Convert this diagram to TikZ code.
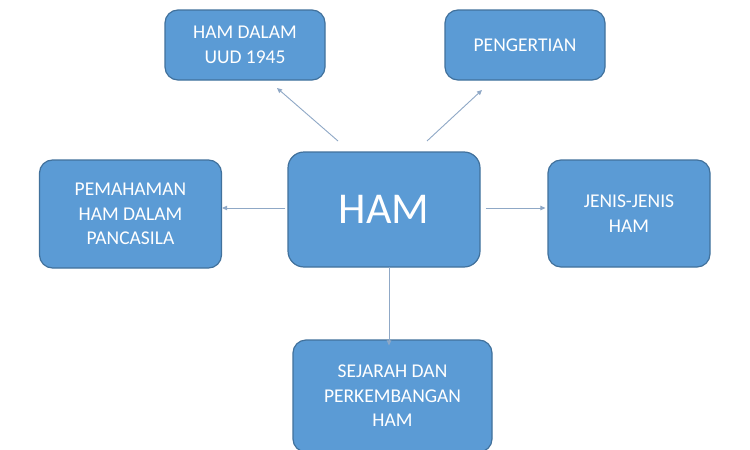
\documentclass[tikz,border=0pt]{standalone}
\usepackage{fontspec}
\setmainfont{Carlito}
\usetikzlibrary{arrows.meta}
\definecolor{boxfill}{HTML}{5B9BD5}
\definecolor{boxline}{HTML}{41719C}
\definecolor{arrowcol}{HTML}{8FA8C6}
\begin{document}
\begin{tikzpicture}[x=1pt,y=-1pt,
  topic/.style={draw=boxline,line width=1.2pt,fill=boxfill,rounded corners=13pt,
    text=white,align=center,font=\fontsize{19.5}{24.5}\selectfont,inner sep=0pt},
  link/.style={draw=arrowcol,line width=0.9pt,-{Triangle[length=5pt,width=4.5pt]}}]
\useasboundingbox[fill=white] (0,0) rectangle (750,450);
\node[topic,minimum width=192pt,minimum height=115pt,rounded corners=16pt,
  font=\fontsize{44}{50}\selectfont] (ham) at (384,209.5) {HAM};
\node[topic,minimum width=160pt,minimum height=70pt] (uud) at (245,45) {HAM DALAM\\UUD 1945};
\node[topic,minimum width=160pt,minimum height=70pt] (peng) at (525,45) {PENGERTIAN};
\node[topic,minimum width=182pt,minimum height=108pt] (pema) at (130.5,214) {PEMAHAMAN\\HAM DALAM\\PANCASILA};
\node[topic,minimum width=162pt,minimum height=107pt] (jenis) at (629,213.5) {JENIS-JENIS\\HAM};
\node[topic,minimum width=199pt,minimum height=112pt] (sej) at (392.5,396) {SEJARAH DAN\\PERKEMBANGAN\\HAM};
\coordinate (a1) at (338,141);
\coordinate (a2) at (427,141);
\coordinate (b1) at (277,88);
\coordinate (b2) at (482,90);
\draw[link] (a1) -- (b1);
\draw[link] (a2) -- (b2);
\draw[link] (ham.west) ++(-2,-1.5) coordinate (c1) (c1) -- (pema.east |- c1);
\draw[link] (ham.east) ++(5,-1.5) coordinate (c2) (c2) -- ([xshift=-2pt]jenis.west |- c2);
\draw[link] ([xshift=5pt,yshift=1pt]ham.south) -- ([xshift=5pt,yshift=-6pt]ham.south |- sej.north);
\end{tikzpicture}
\end{document}
